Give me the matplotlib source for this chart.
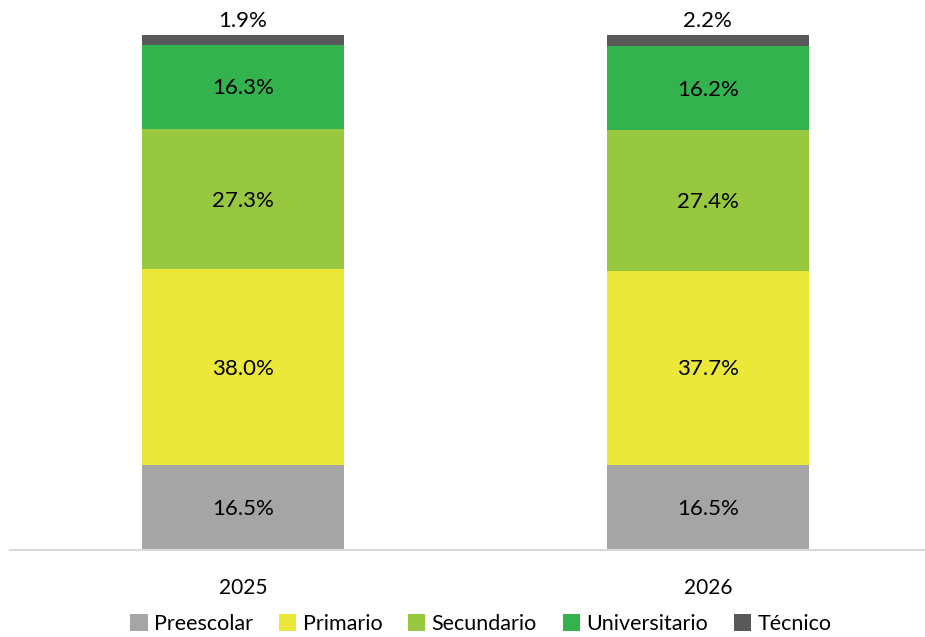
import matplotlib
matplotlib.use("Agg")
import matplotlib.pyplot as plt
from matplotlib.patches import Patch

plt.rcParams['font.family'] = ['Lato', 'DejaVu Sans']

years = ["2025", "2026"]
series = ["Preescolar", "Primario", "Secundario", "Universitario", "Técnico"]
preescolar = [16.5, 16.5]
primario = [38.0, 37.7]
secundario = [27.3, 27.4]
universitario = [16.3, 16.2]
tecnico = [1.9, 2.2]
colors = ["#a5a5a5", "#ebe83a", "#98c83f", "#33b34e", "#595959"]

data = [preescolar, primario, secundario, universitario, tecnico]

W, H = 925, 637
fig = plt.figure(figsize=(W / 100, H / 100), dpi=100)
ax = fig.add_axes([10 / W, 1 - 550 / H, 1 - 10 / W, (550 - 35) / H])

x = list(range(len(years)))
bottoms = [0.0] * len(years)
fs = 16
for vals, name, col in zip(data, series, colors):
    ax.bar(x, vals, width=0.434, bottom=bottoms, color=col, label=name, zorder=2)
    for i, v in enumerate(vals):
        if name == "Técnico":
            ax.text(x[i], bottoms[i] + v + 0.8, f"{v:.1f}%", ha="center", va="bottom",
                    fontsize=fs, color="#000000")
        else:
            ax.text(x[i], bottoms[i] + v / 2 - 0.3, f"{v:.1f}%", ha="center", va="center",
                    fontsize=fs, color="#000000")
    bottoms = [b + v for b, v in zip(bottoms, vals)]

ax.set_xlim(-0.501, 1.467)
ax.set_ylim(0, sum(d[0] for d in data))
ax.set_xticks(x)
ax.set_xticklabels(years, fontsize=15)
ax.tick_params(axis="x", length=0, pad=20)
ax.set_yticks([])
for s in ["top", "right", "left"]:
    ax.spines[s].set_visible(False)
ax.spines["bottom"].set_color("#d9d9d9")
ax.spines["bottom"].set_linewidth(1.5)
ax.spines["bottom"].set_zorder(3)

handles = [Patch(facecolor=c, edgecolor="none", label=n) for n, c in zip(series, colors)]
fig.legend(handles=handles, loc="center", bbox_to_anchor=(0.52, 1 - 624 / H), ncol=5,
           frameon=False, fontsize=15.5, handlelength=0.8, handleheight=0.8,
           handletextpad=0.3, columnspacing=1.2)

fig.savefig("out.png", dpi=100)
